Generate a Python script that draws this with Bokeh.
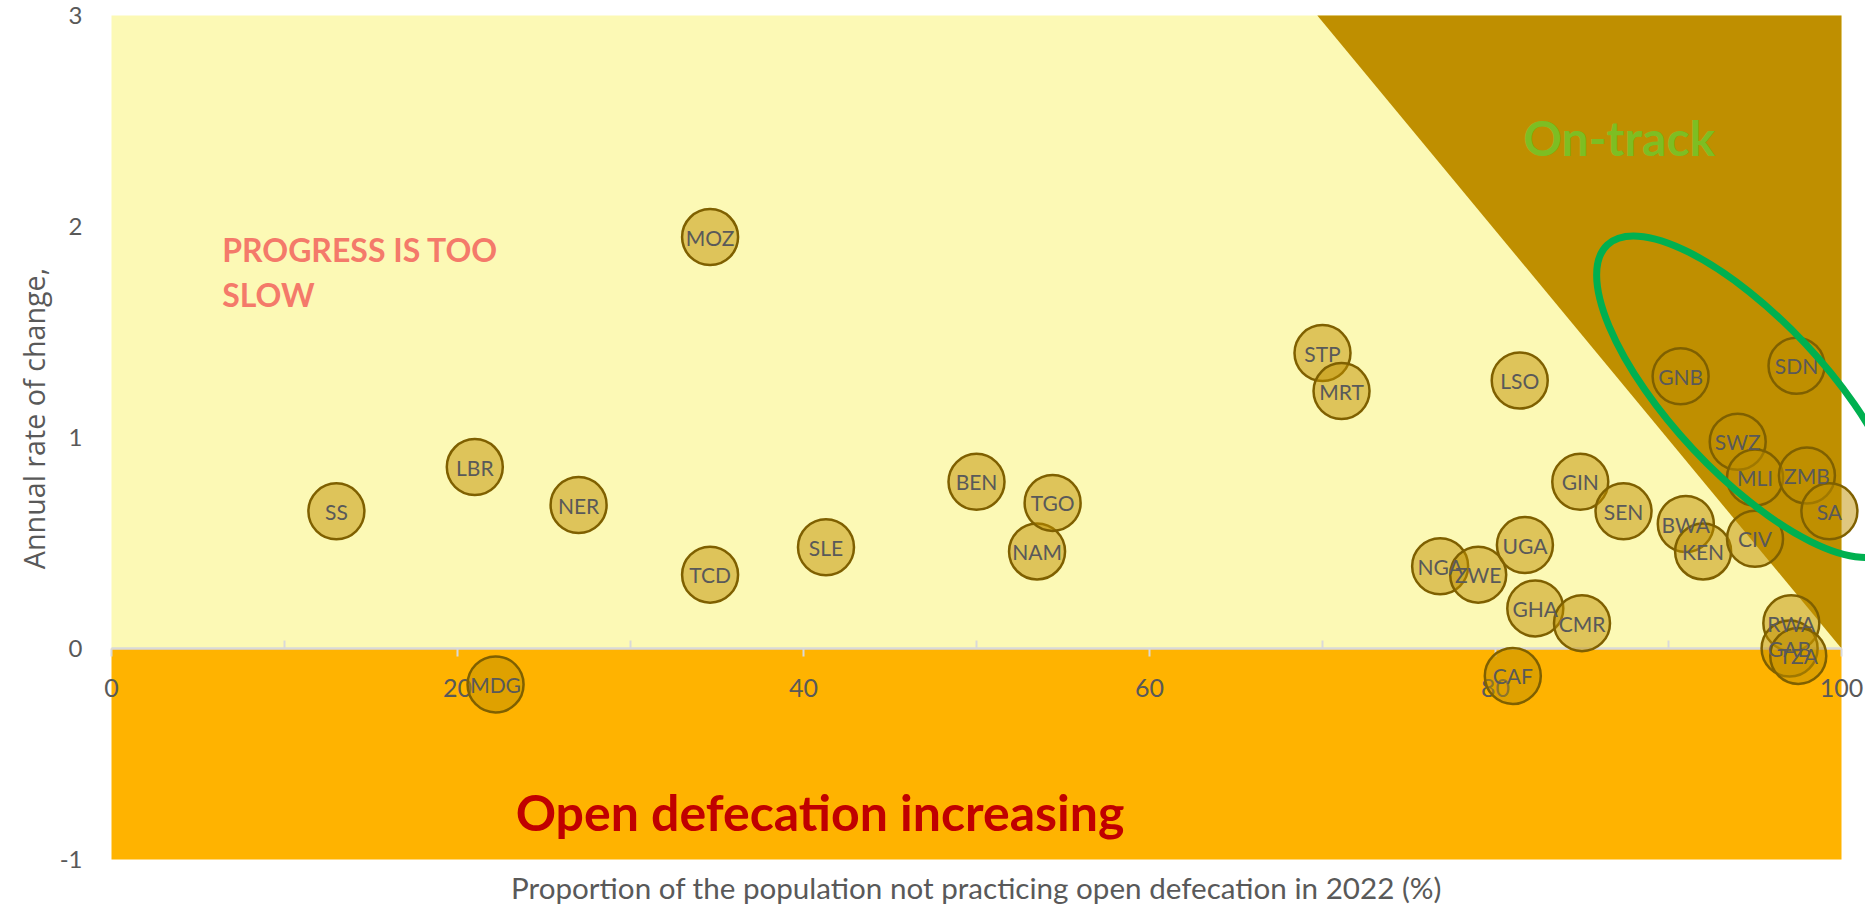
import numpy as np
from bokeh.plotting import figure
from bokeh.models import ColumnDataSource, FixedTicker, Range1d
from bokeh.core.properties import value
from bokeh.embed import file_html
from bokeh.resources import INLINE

# ---------------- data ----------------
codes = ["SS", "LBR", "MDG", "NER", "TCD", "MOZ", "SLE", "BEN", "NAM", "TGO",
         "STP", "MRT", "NGA", "ZWE", "CAF", "LSO", "UGA", "GHA", "GIN", "CMR",
         "SEN", "GNB", "BWA", "KEN", "SWZ", "MLI", "CIV", "RWA", "GAB", "TZA",
         "SDN", "ZMB", "SA"]
pct_no_open_defecation = [13.0, 21.0, 22.2, 27.0, 34.6, 34.6, 41.3, 50.0, 53.5, 54.4,
                          70.0, 71.1, 76.8, 79.0, 81.0, 81.4, 81.7, 82.3, 84.9, 85.0,
                          87.4, 90.7, 91.0, 92.0, 94.0, 95.0, 95.0, 97.1, 97.0, 97.5,
                          97.4, 98.0, 99.3]
annual_rate_of_change = [0.65, 0.86, -0.17, 0.68, 0.35, 1.95, 0.48, 0.79, 0.46, 0.69,
                         1.40, 1.22, 0.39, 0.35, -0.13, 1.27, 0.49, 0.19, 0.79, 0.12,
                         0.65, 1.29, 0.59, 0.46, 0.98, 0.81, 0.52, 0.12, 0.00, -0.035,
                         1.34, 0.82, 0.65]

x_ticks = [0, 20, 40, 60, 80, 100]
x_minor_ticks = [10, 30, 50, 70, 90]
y_ticks = [-1, 0, 1, 2, 3]

# zones
slow_zone = dict(left=0, right=100, bottom=0, top=3)
increase_zone = dict(left=0, right=100, bottom=-1, top=0)
on_track_x = [69.7, 100, 100]
on_track_y = [3, 3, 0]

x_title = "Proportion of the population not practicing open defecation in 2022 (%)"
y_title = "Annual rate of change,"

GRAY = "#595959"

# ---------------- figure ----------------
W, H = 1865, 906
p = figure(width=W, height=H, output_backend="svg", toolbar_location=None,
           x_range=Range1d(-6.416, 101.387), y_range=Range1d(-1.2227, 3.0711),
           min_border_left=0, min_border_right=0, min_border_top=0,
           min_border_bottom=0)
p.background_fill_color = "white"
p.border_fill_color = "white"
p.outline_line_color = None
p.grid.visible = False

# zone backgrounds
r = p.quad(**slow_zone, fill_color="#FCF9B5", line_color=None)
r.level = "image"
r = p.quad(**increase_zone, fill_color="#FFB300", line_color=None)
r.level = "image"
r = p.patch(on_track_x, on_track_y, fill_color="#BF8F00", line_color=None)
r.level = "image"

# x axis crossing at y = 0
xa = p.xaxis[0]
xa.fixed_location = 0
xa.bounds = (0, 100)
xa.ticker = FixedTicker(ticks=x_ticks, minor_ticks=x_minor_ticks)
xa.axis_line_color = "#D9D9D9"
xa.axis_line_width = 2.5
xa.major_tick_line_color = "#D9D9D9"
xa.major_tick_line_width = 2
xa.major_tick_in = 0
xa.major_tick_out = 8
xa.minor_tick_line_color = "#D9D9D9"
xa.minor_tick_line_width = 2
xa.minor_tick_in = 8
xa.minor_tick_out = 0
xa.major_label_text_font = "Lato"
xa.major_label_text_font_size = "25px"
xa.major_label_text_color = GRAY
xa.major_label_standoff = 22
xa.level = "underlay"

# y axis placed just left of x = 0
ya = p.yaxis[0]
ya.fixed_location = -1.618
ya.ticker = FixedTicker(ticks=y_ticks)
ya.major_label_overrides = {-1: "-1"}
ya.axis_line_color = None
ya.major_tick_line_color = None
ya.minor_tick_line_color = None
ya.major_tick_out = 0
ya.major_tick_in = 0
ya.major_label_text_font = "Lato"
ya.major_label_text_font_size = "24px"
ya.major_label_text_color = GRAY
ya.major_label_standoff = 1

# axis titles
p.text(x=[-4.51], y=[1.09], text=[y_title], angle=np.pi / 2, text_align="center",
       text_baseline="middle", text_font=value("Open Sans"), text_font_size="28.7px",
       text_color=GRAY)
p.text(x=[50], y=[-1.133], text=[x_title], text_align="center",
       text_baseline="middle", text_font=value("Lato"), text_font_size="29.6px",
       text_color=GRAY)

# bubbles
src = ColumnDataSource(dict(code=codes, x=pct_no_open_defecation, y=annual_rate_of_change))
p.scatter("x", "y", source=src, size=56, fill_color="#BF8F00", fill_alpha=0.5,
          line_color="#7F6000", line_width=2.5)
p.text("x", "y", text="code", source=src, text_align="center", text_baseline="middle",
       text_font=value("Lato"), text_font_size="21px", text_color=GRAY)

# zone labels
p.text(x=[6.4, 6.4], y=[1.89, 1.68], text=["PROGRESS IS TOO", "SLOW"],
       text_align="left", text_baseline="middle", text_font=value("Lato"),
       text_font_style="bold", text_font_size="32px", text_color="#F47A6A")
p.text(x=[87.15], y=[2.42], text=["On-track"], text_align="center",
       text_baseline="middle", text_font=value("Lato"), text_font_style="bold",
       text_font_size="48px", text_color="#7DBE23")
p.text(x=[23.36], y=[-0.775], text=["Open defecation increasing"], text_align="left",
       text_baseline="middle", text_font=value("Lato"), text_font_style="bold",
       text_font_size="50px", text_color="#C00000")

# highlight ellipse
p.ellipse(x=[94.68], y=[1.193], width=[416], height=[154], angle=-0.8186,
          width_units="screen", height_units="screen", fill_color=None,
          line_color="#00B050", line_width=7)

open("out.html", "w").write(file_html(p, INLINE))
